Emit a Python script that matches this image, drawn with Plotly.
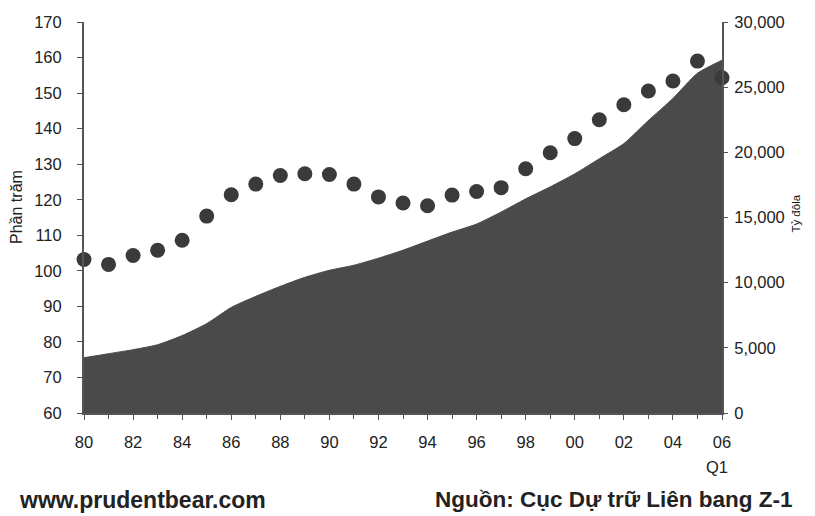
import plotly.graph_objects as go

years = list(range(1980, 2007))
debt_pct = [103.2, 101.8, 104.3, 105.8, 108.6, 115.4, 121.4, 124.4, 126.8, 127.3,
            127.1, 124.4, 120.8, 119.1, 118.3, 121.3, 122.3, 123.4, 128.7, 133.2,
            137.2, 142.5, 146.7, 150.6, 153.4, 159.0, 154.3]
debt_bn = [4240, 4550, 4860, 5240, 5940, 6860, 8100, 8950, 9720, 10410,
           10950, 11340, 11880, 12490, 13190, 13880, 14500, 15420, 16430, 17350,
           18350, 19510, 20670, 22440, 24140, 26070, 27070]
x_tick_vals = list(range(1980, 2007, 2))
x_tick_text = ["80", "82", "84", "86", "88", "90", "92", "94", "96", "98",
               "00", "02", "04", "06"]
left_ticks = list(range(60, 171, 10))
right_ticks = list(range(0, 30001, 5000))

axis_col = "#555555"
text_col = "#222222"
font_main = "Liberation Sans, Arial, sans-serif"
tick_size = 16.5

fig = go.Figure()
fig.add_trace(go.Scatter(
    x=years, y=debt_bn, mode="lines", fill="tozeroy",
    line=dict(color="#4a4a4a", width=1, shape="spline", smoothing=0.6),
    fillcolor="#4a4a4a", yaxis="y", showlegend=False, hoverinfo="skip"))
fig.add_trace(go.Scatter(
    x=years, y=debt_pct, mode="markers",
    marker=dict(color="#3a3a3a", size=15),
    yaxis="y2", cliponaxis=False, showlegend=False))

fig.update_layout(
    width=807, height=508,
    margin=dict(l=76, r=93, t=14, b=103, autoexpand=False),
    paper_bgcolor="white", plot_bgcolor="white",
    font=dict(family=font_main, size=13, color=text_col),
    xaxis=dict(range=[1980, 2006], tickvals=x_tick_vals, ticktext=x_tick_text,
               showgrid=False, zeroline=False, showline=True, linecolor=axis_col,
               linewidth=2, ticks="outside", ticklen=5, tickcolor=axis_col,
               ticklabelstandoff=8, automargin=False,
               minor=dict(dtick=1, tick0=1980, ticks="outside", ticklen=4,
                          tickcolor=axis_col, showgrid=False),
               tickfont=dict(size=tick_size, color=text_col)),
    yaxis=dict(range=[0, 30000], side="right", tickvals=right_ticks,
               tickformat=",", showgrid=False, zeroline=False, showline=True,
               linecolor=axis_col, linewidth=2, ticks="outside", ticklen=4,
               ticklabelstandoff=3, automargin=False,
               tickcolor=axis_col, tickfont=dict(size=tick_size, color=text_col)),
    yaxis2=dict(range=[60, 170], side="left", overlaying="y", tickvals=left_ticks,
                showgrid=False, zeroline=False, showline=True, linecolor=axis_col,
                linewidth=2, ticks="outside", ticklen=5, tickcolor=axis_col,
                ticklabelstandoff=12, automargin=False,
                tickfont=dict(size=tick_size, color=text_col)),
    annotations=[
        dict(text="Phần trăm", textangle=-90, xref="paper", yref="paper",
             x=-0.105, y=0.527, xanchor="center", yanchor="middle",
             showarrow=False, font=dict(size=16, color=text_col)),
        dict(text="Tỷ đôla", textangle=-90, xref="paper", yref="paper",
             x=1.116, y=0.51, xanchor="center", yanchor="middle",
             showarrow=False, font=dict(size=11.5, color="#111111")),
        dict(text="Q1", xref="x", yref="paper", x=2005.8, y=-0.138,
             xanchor="center", yanchor="middle",
             showarrow=False, font=dict(size=tick_size, color=text_col)),
        dict(text="<b>www.prudentbear.com</b>", xref="paper", yref="paper",
             x=-0.105, xanchor="left", y=-0.222, yanchor="middle", showarrow=False,
             font=dict(size=23, color=text_col)),
        dict(text="<b>Nguồn: Cục Dự trữ Liên bang Z-1</b>", xref="paper", yref="paper",
             x=1.114, xanchor="right", y=-0.222, yanchor="middle", showarrow=False,
             font=dict(size=22.5, color=text_col)),
    ],
)

fig.write_html("out.html")
